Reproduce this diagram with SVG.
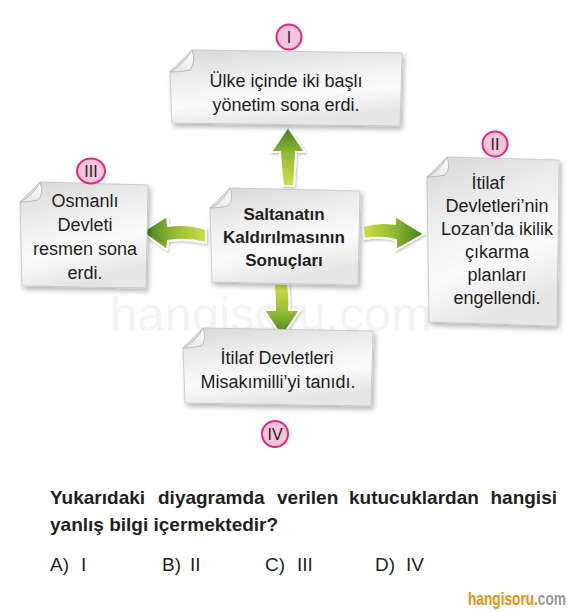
<svg xmlns="http://www.w3.org/2000/svg" width="571" height="612" viewBox="0 0 571 612">
<defs>
  <linearGradient id="paper" x1="0" y1="0" x2="0.3" y2="1">
    <stop offset="0" stop-color="#d6d6d6"/>
    <stop offset="0.35" stop-color="#ececec"/>
    <stop offset="0.7" stop-color="#fbfbfb"/>
    <stop offset="1" stop-color="#e6e6e6"/>
  </linearGradient>
  <linearGradient id="flap" x1="0" y1="1" x2="1" y2="0">
    <stop offset="0" stop-color="#e2e2e2"/>
    <stop offset="1" stop-color="#ffffff"/>
  </linearGradient>
  <linearGradient id="gUp" x1="0" y1="1" x2="0" y2="0">
    <stop offset="0" stop-color="#d2df48"/>
    <stop offset="0.55" stop-color="#8fbb34"/>
    <stop offset="1" stop-color="#3f7d1e"/>
  </linearGradient>
  <linearGradient id="gDown" x1="0" y1="0" x2="0" y2="1">
    <stop offset="0" stop-color="#d2df48"/>
    <stop offset="0.55" stop-color="#8fbb34"/>
    <stop offset="1" stop-color="#3f7d1e"/>
  </linearGradient>
  <linearGradient id="gLeft" x1="1" y1="0" x2="0" y2="0">
    <stop offset="0" stop-color="#d2df48"/>
    <stop offset="0.5" stop-color="#8fbb34"/>
    <stop offset="1" stop-color="#3f7d1e"/>
  </linearGradient>
  <linearGradient id="gRight" x1="0" y1="0" x2="1" y2="0">
    <stop offset="0" stop-color="#d2df48"/>
    <stop offset="0.5" stop-color="#8fbb34"/>
    <stop offset="1" stop-color="#3f7d1e"/>
  </linearGradient>
  <filter id="sh" x="-20%" y="-20%" width="140%" height="150%">
    <feDropShadow dx="2" dy="3" stdDeviation="2.5" flood-color="#000" flood-opacity="0.3"/>
  </filter>
  <filter id="ash" x="-30%" y="-30%" width="160%" height="160%">
    <feDropShadow dx="1" dy="1.5" stdDeviation="1.2" flood-color="#000" flood-opacity="0.25"/>
  </filter>
</defs>
<style>
  .body { fill: url(#paper); stroke: #c4c4c4; stroke-width: 0.8; filter: url(#sh); }
  .flap { fill: url(#flap); stroke: #b0b0b0; stroke-width: 0.8; }
  .t { font-family: "Liberation Sans", Arial, sans-serif; font-size: 18px; fill: #231f20; text-anchor: middle; }
  .tb { font-family: "Liberation Sans", Arial, sans-serif; font-size: 17px; font-weight: bold; fill: #231f20; text-anchor: middle; }
  .badge { fill: #f7c4dc; stroke: #e3267f; stroke-width: 2; }
  .bt { font-family: "Liberation Sans", Arial, sans-serif; font-size: 16px; fill: #231f20; text-anchor: middle; }
  .arrow { stroke: #ffffff; stroke-width: 2; stroke-linejoin: round; filter: url(#ash); }
  .q { font-family: "Liberation Sans", Arial, sans-serif; font-size: 19px; font-weight: bold; fill: #231f20; }
  .o { font-family: "Liberation Sans", Arial, sans-serif; font-size: 19px; fill: #231f20; }
</style>

<text x="110" y="331" font-family="Liberation Sans, Arial, sans-serif" font-size="48" fill="#f4f4f4" textLength="322" lengthAdjust="spacingAndGlyphs">hangisoru.com</text>

<g id="connectors">
  <path class="arrow" fill="url(#gUp)" d="M288,127 L305,152 L296,152 Q295,170 294,186 L283,186 Q281,168 280,152 L271,152 Z"/>
  <path class="arrow" fill="url(#gLeft)" d="M142,232 L167,216 L168,226 Q186,223 206,229 L206,243 Q186,238 168,241 L167,250 Z"/>
  <path class="arrow" fill="url(#gRight)" d="M363,226 Q380,221 395,224 L395,216 L424,234 L396,250 L396,240 Q380,236 364,239 Z"/>
  <path class="arrow" fill="url(#gDown)" d="M274,284 L288,284 Q290,298 289,310 L300,310 L282,337 L264,310 L275,310 Q275,298 274,284 Z"/>
</g>

<g id="node-I">
  <path class="body" d="M192,50 L402,53 L400,126 L172,123 L170,72 Z"/>
  <path class="flap" d="M170,72 Q184,64 192,50 Q196,62 190,70 Q182,72 170,72 Z"/>
  <text class="t" x="286" y="87">Ülke içinde iki başlı</text>
  <text class="t" x="286" y="111">yönetim sona erdi.</text>
</g>
<g id="badge-I">
  <circle class="badge" cx="289" cy="37" r="12.5"/>
  <text class="bt" x="289" y="43">I</text>
</g>

<g id="node-center">
  <path class="body" d="M230,188 L360,191 L358,285 L212,282 L210,208 Z"/>
  <path class="flap" d="M210,208 Q224,201 230,188 Q234,200 228,206 Q220,208 210,208 Z"/>
  <text class="tb" x="284" y="220">Saltanatın</text>
  <text class="tb" x="284" y="243">Kaldırılmasının</text>
  <text class="tb" x="284" y="266">Sonuçları</text>
</g>

<g id="node-III">
  <path class="body" d="M40,182 L148,185 L146,288 L22,286 L20,202 Z"/>
  <path class="flap" d="M20,202 Q34,195 40,182 Q44,194 38,200 Q30,202 20,202 Z"/>
  <text class="t" x="85" y="207">Osmanlı</text>
  <text class="t" x="85" y="231">Devleti</text>
  <text class="t" x="85" y="255">resmen sona</text>
  <text class="t" x="85" y="279">erdi.</text>
</g>
<g id="badge-III">
  <ellipse class="badge" cx="91" cy="171" rx="14" ry="12.5"/>
  <text class="bt" x="91" y="177">III</text>
</g>

<g id="node-II">
  <path class="body" d="M447,157 L559,160 L557,326 L429,322 L427,177 Z"/>
  <path class="flap" d="M427,177 Q441,170 447,157 Q451,169 445,175 Q437,177 427,177 Z"/>
  <text class="t" x="488" y="189">İtilaf</text>
  <text class="t" x="497" y="212">Devletleri’nin</text>
  <text class="t" x="497" y="235">Lozan’da ikilik</text>
  <text class="t" x="497" y="258">çıkarma</text>
  <text class="t" x="497" y="281">planları</text>
  <text class="t" x="497" y="304">engellendi.</text>
</g>
<g id="badge-II">
  <circle class="badge" cx="495" cy="144" r="12.5"/>
  <text class="bt" x="495" y="150">II</text>
</g>

<g id="node-IV">
  <path class="body" d="M203,328 L373,331 L371,406 L185,403 L183,348 Z"/>
  <path class="flap" d="M183,348 Q197,341 203,328 Q207,340 201,346 Q193,348 183,348 Z"/>
  <text class="t" x="277" y="364">İtilaf Devletleri</text>
  <text class="t" x="278" y="388">Misakımilli’yi tanıdı.</text>
</g>
<g id="badge-IV">
  <circle class="badge" cx="275" cy="434" r="13"/>
  <text class="bt" x="275" y="440">IV</text>
</g>

<g id="question">
  <text class="q" x="50" y="504">Yukarıdaki</text>
  <text class="q" x="158" y="504">diyagramda</text>
  <text class="q" x="277" y="504">verilen</text>
  <text class="q" x="349" y="504">kutucuklardan</text>
  <text class="q" x="557" y="504" text-anchor="end">hangisi</text>
  <text class="q" x="50" y="531">yanlış bilgi içermektedir?</text>
</g>
<g id="options">
  <text class="o" x="50" y="571">A)</text><text class="o" x="81" y="571">I</text>
  <text class="o" x="162" y="571">B)</text><text class="o" x="190" y="571">II</text>
  <text class="o" x="265" y="571">C)</text><text class="o" x="297" y="571">III</text>
  <text class="o" x="375" y="571">D)</text><text class="o" x="406" y="571">IV</text>
</g>

<g id="logo" transform="translate(468,605) scale(0.76,1)">
  <text x="0" y="0" font-family="Liberation Sans, Arial, sans-serif" font-size="18" font-weight="bold"><tspan fill="#e8900e">hangisoru.</tspan><tspan fill="#9a9a9a">com</tspan></text>
</g>
</svg>
